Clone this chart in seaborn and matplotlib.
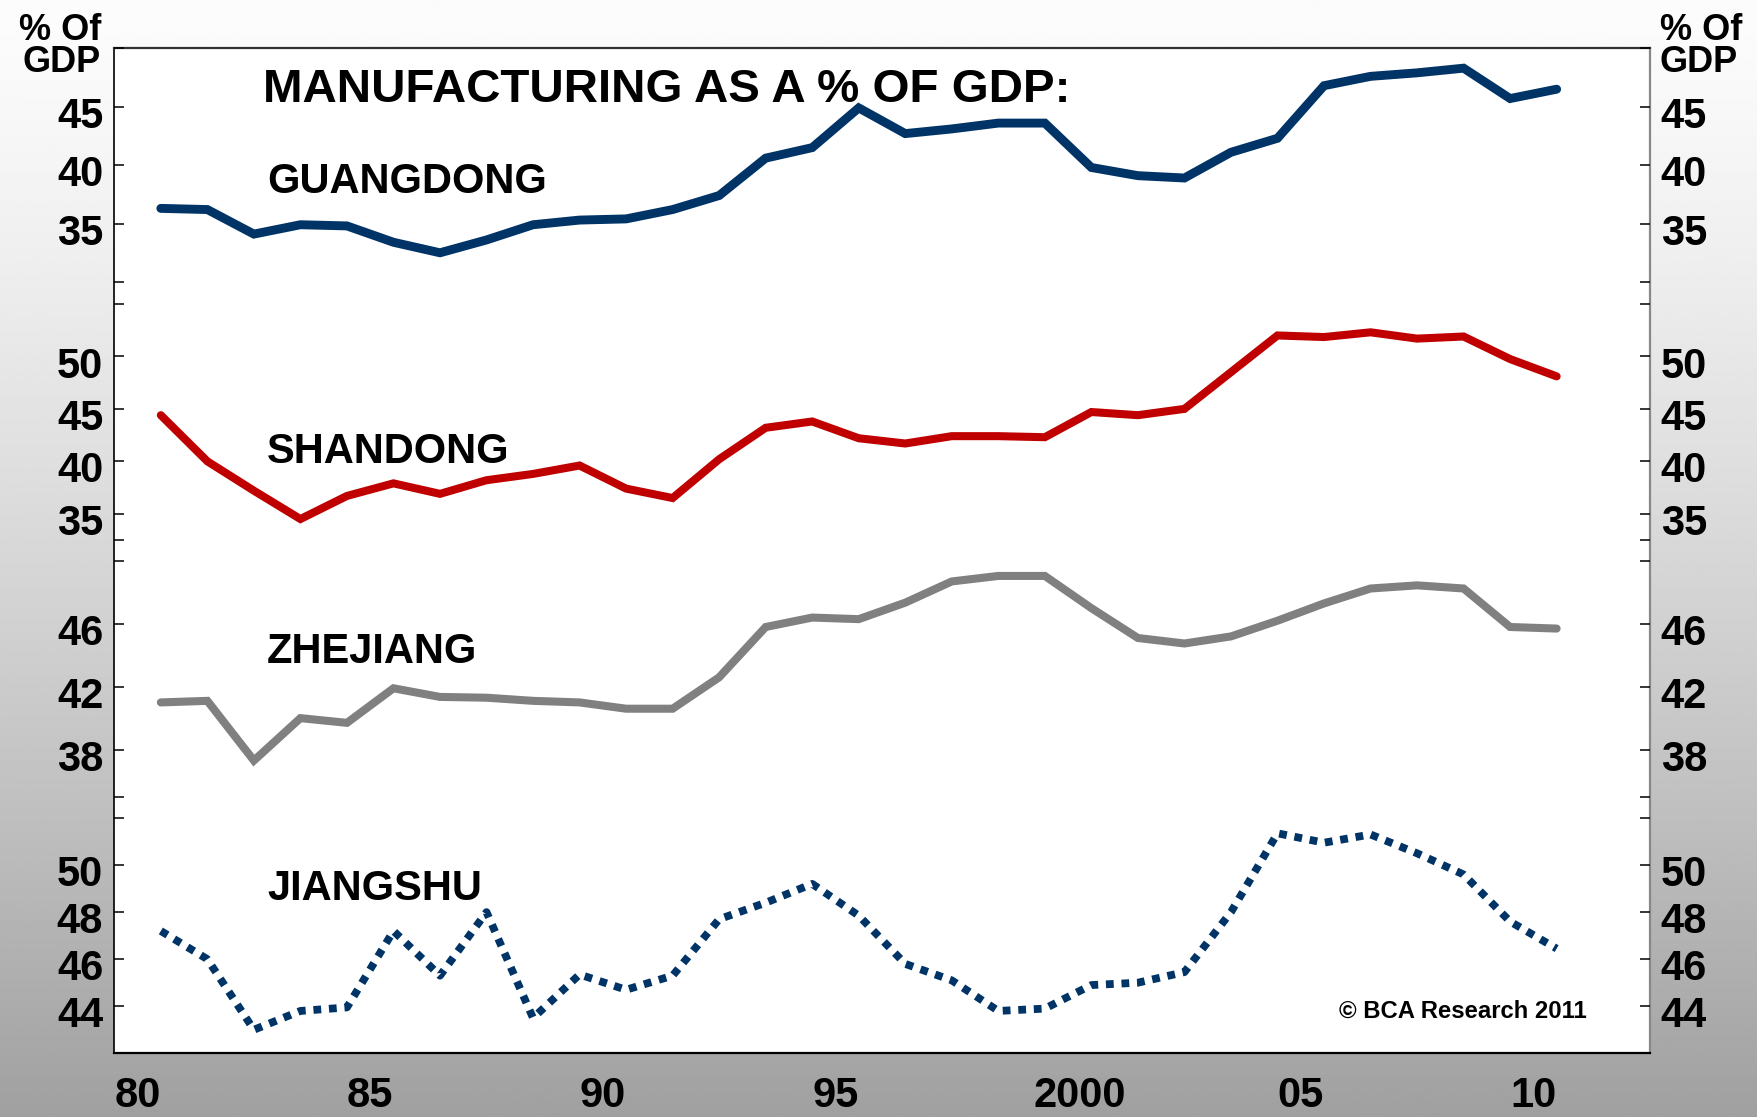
import numpy as np
import pandas as pd
import matplotlib
matplotlib.use('Agg')
import matplotlib.pyplot as plt
import matplotlib.transforms as mtransforms
import seaborn as sns

# Manufacturing as a % of GDP, annual 1980-2010
years = list(range(1980, 2011))
guangdong = [36.3, 36.2, 34.1, 34.9, 34.8, 33.4, 32.5, 33.6, 34.9, 35.3, 35.4,
             36.2, 37.4, 40.6, 41.5, 44.9, 42.7, 43.1, 43.6, 43.6, 39.8,
             39.1, 38.9, 41.1, 42.3, 46.8, 47.6, 47.9, 48.3, 45.7, 46.5]
shandong = [44.4, 40.0, 37.2, 34.5, 36.7, 37.9, 36.9, 38.2, 38.8, 39.6, 37.4,
            36.5, 40.2, 43.2, 43.8, 42.2, 41.7, 42.4, 42.4, 42.3, 44.7,
            44.4, 45.0, 48.5, 52.0, 51.85, 52.3, 51.7, 51.9, 49.75, 48.1]
zhejiang = [41.0, 41.1, 37.3, 40.0, 39.7, 41.9, 41.35, 41.3, 41.1, 41.0, 40.6,
            40.6, 42.6, 45.8, 46.4, 46.3, 47.35, 48.7, 49.05, 49.05, 47.0,
            45.1, 44.75, 45.2, 46.2, 47.3, 48.25, 48.45, 48.25, 45.8, 45.7]
jiangshu = [47.2, 46.0, 43.0, 43.8, 43.95, 47.2, 45.3, 48.0, 43.5, 45.35, 44.7,
            45.3, 47.7, 48.4, 49.2, 47.85, 45.8, 45.1, 43.8, 43.9, 44.9,
            45.0, 45.45, 48.0, 51.35, 50.95, 51.3, 50.5, 49.6, 47.6, 46.45]

panel_names = ['GUANGDONG', 'SHANDONG', 'ZHEJIANG', 'JIANGSHU']
panel_ticks = [[35, 40, 45], [35, 40, 45, 50], [38, 42, 46], [44, 46, 48, 50]]
panel_limits = [(30, 50), (32.5, 55), (35, 50), (42, 52)]
x_labels = ['80', '85', '90', '95', '2000', '05', '10']
x_label_pos = [1979.5, 1984.5, 1989.5, 1994.5, 1999.75, 2004.5, 2009.5]

df = pd.DataFrame({'year': years, 'GUANGDONG': guangdong, 'SHANDONG': shandong,
                   'ZHEJIANG': zhejiang, 'JIANGSHU': jiangshu})

sns.set_style('white')
plt.rcParams['font.family'] = ['Liberation Sans', 'DejaVu Sans']
plt.rcParams['font.weight'] = 'bold'
plt.rcParams['text.color'] = 'black'
plt.rcParams['xtick.color'] = 'black'
plt.rcParams['ytick.color'] = 'black'
plt.rcParams['xtick.labelcolor'] = 'black'
plt.rcParams['ytick.labelcolor'] = 'black'

W, H = 1758, 1117
L, R = 114.3, 1649.7
fig = plt.figure(figsize=(W / 100, H / 100), dpi=100)


def box(top, bottom):
    return [L / W, 1 - bottom / H, (R - L) / W, (bottom - top) / H]


# grey gradient background
bg = fig.add_axes([0, 0, 1, 1], zorder=-10)
t = np.linspace(0, 1, 400)[:, None]
shade = (252 - 92 * t ** 1.3) / 255
bg.imshow(np.hstack([shade, shade]), cmap='gray', vmin=0, vmax=1,
          aspect='auto', extent=[0, 1, 0, 1])
bg.axis('off')

# white frame holding all four panels
frame = fig.add_axes(box(48.3, 1053.3), zorder=0)
frame.set_facecolor('white')
frame.set_xlim(1979, 2012)
frame.set_yticks([])
frame.set_xticks(range(1980, 2012))
frame.set_xticks(x_label_pos, minor=True)
frame.set_xticklabels([], minor=False)
frame.set_xticklabels(x_labels, minor=True)
frame.tick_params(axis='x', which='major', direction='in', length=9.5,
                  width=1.1, color='black')
frame.tick_params(axis='x', which='minor', length=0, pad=16, labelsize=30)
for side, c, w in [('left', 'black', 1.2), ('bottom', 'black', 1.6),
                   ('top', '#333333', 1.6), ('right', '#888888', 1.6)]:
    frame.spines[side].set_visible(True)
    frame.spines[side].set_color(c)
    frame.spines[side].set_linewidth(w)

panel_px = [(48.3, 282), (304, 540), (561, 796.7), (818, 1053.3)]
styles = [dict(color='#003366', linewidth=6.4),
          dict(color='#c00000', linewidth=5.8),
          dict(color='#808080', linewidth=5.8),
          dict(color='#003366', linewidth=5.6)]
label_shift = mtransforms.ScaledTranslation(0, -4 / 72, fig.dpi_scale_trans)

for i, name in enumerate(panel_names):
    ax = fig.add_axes(box(*panel_px[i]), zorder=1)
    ax.patch.set_alpha(0)
    sns.lineplot(data=df, x='year', y=name, ax=ax, legend=False, **styles[i])
    line = ax.lines[-1]
    line.set_solid_joinstyle('miter')
    if name == 'JIANGSHU':
        line.set_linestyle((0, (1, 1)))
        line.set_dash_capstyle('butt')
    ax.set_xlim(1979, 2012)
    ax.set_ylim(*panel_limits[i])
    ax.set_xlabel('')
    ax.set_ylabel('')
    ax.set_xticks([])
    ax.set_yticks(panel_ticks[i])
    ax.set_yticks(list(panel_limits[i]), minor=True)
    ax.tick_params(axis='y', which='both', left=True, right=True,
                   labelleft=True, labelright=True, direction='in',
                   length=7.2, width=1.1, color='black', pad=8, labelsize=30)
    for tick in ax.yaxis.get_major_ticks():
        for lbl in (tick.label1, tick.label2):
            lbl.set_transform(lbl.get_transform() + label_shift)
    for s in ax.spines.values():
        s.set_visible(False)

# panel names and headings
fig.text(263.5 / W, 1 - 90 / H, 'MANUFACTURING AS A % OF GDP:', fontsize=34.2,
         fontweight='bold', ha='left', va='center')
name_y = [182, 452, 652, 889]
for name, y in zip(panel_names, name_y):
    fig.text(267 / W, 1 - y / H, name, fontsize=30, fontweight='bold',
             ha='left', va='center')

fig.text(1587 / W, 1 - 1011 / H, '\u00a9 BCA Research 2011', fontsize=17.2,
         fontweight='bold', ha='right', va='center')

for txt, y in [('% Of', 30), ('GDP', 62)]:
    fig.text(101 / W, 1 - y / H, txt, fontsize=26, fontweight='bold',
             ha='right', va='center')
    fig.text(1660 / W, 1 - y / H, txt, fontsize=26, fontweight='bold',
             ha='left', va='center')

fig.savefig('out.png', dpi=100)
